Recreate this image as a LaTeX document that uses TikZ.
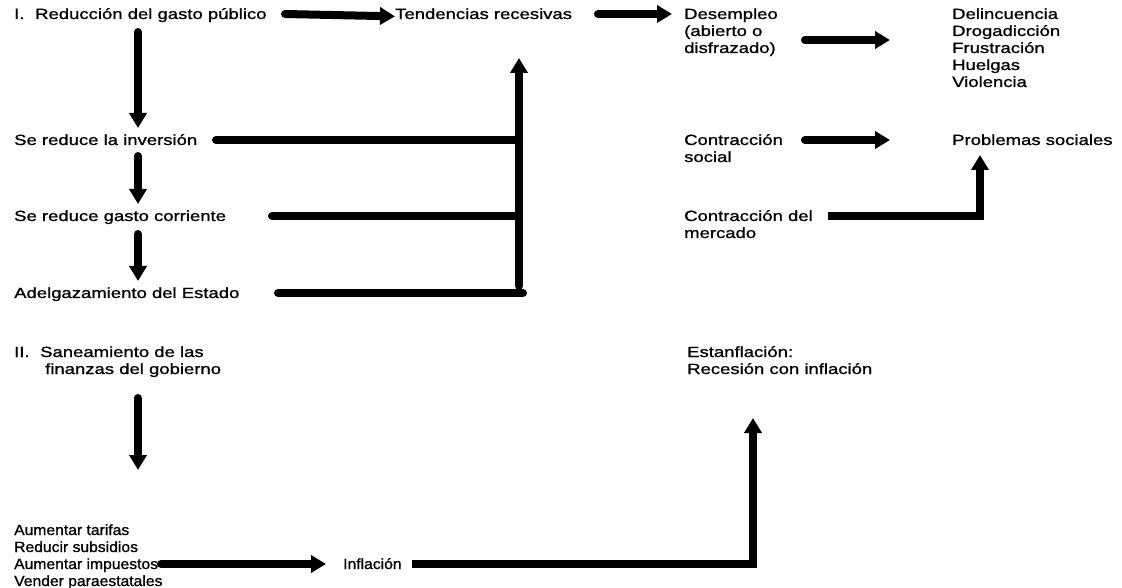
\documentclass[tikz,border=0pt]{standalone}
\usepackage{fontspec}
\setmainfont{Liberation Sans}[FakeStretch=1.25,FakeBold=1]
\newfontfamily\smallfont{Liberation Sans}[FakeStretch=1.06,FakeBold=1]
\usetikzlibrary{arrows.meta}
\tikzset{
  lbl/.style={anchor=base west, inner sep=0pt, font=\fontsize{14.8}{17}\selectfont},
  slbl/.style={lbl, font=\smallfont\fontsize{14.8}{17}\selectfont},
  arr/.style={line width=8pt, line cap=round, -{Triangle[length=15pt,width=17pt]}},
  bar/.style={line width=8pt, line cap=round}
}
\begin{document}
\begin{tikzpicture}[x=1pt,y=-1pt]
\useasboundingbox[fill=white] (0,0) rectangle (1122,588);
% ---- section I texts
\node[lbl] (one) at (14,19) {I.};
\node[lbl] (red) at (35,19) {Reducción del gasto público};
\node[lbl] (tend) at (395,19) {Tendencias recesivas};
\node[lbl] (des1) at (684,19) {Desempleo};
\node[lbl] (des2) at (684,36) {(abierto o};
\node[lbl] (des3) at (684,53) {disfrazado)};
\node[lbl] (del1) at (952,19) {Delincuencia};
\node[lbl] (del2) at (952,36) {Drogadicción};
\node[lbl] (del3) at (952,53) {Frustración};
\node[lbl] (del4) at (952,70) {Huelgas};
\node[lbl] (del5) at (952,87) {Violencia};
\node[lbl] (inv) at (14,145) {Se reduce la inversión};
\node[lbl] (gc) at (14,221) {Se reduce gasto corriente};
\node[lbl] (adel) at (14,298) {Adelgazamiento del Estado};
\node[lbl] (cs1) at (684,145) {Contracción};
\node[lbl] (cs2) at (684,162) {social};
\node[lbl] (ps) at (952,145) {Problemas sociales};
\node[lbl] (cm1) at (684,221) {Contracción del};
\node[lbl] (cm2) at (684,238) {mercado};
% ---- section II texts
\node[lbl] (two) at (14,357) {II.};
\node[lbl] (san1) at (40,357) {Saneamiento de las};
\node[lbl] (san2) at (45,374) {finanzas del gobierno};
\node[lbl] (est1) at (687,357) {Estanflación:};
\node[lbl] (est2) at (687,374) {Recesión con inflación};
\node[slbl] (tar) at (14,535) {Aumentar tarifas};
\node[slbl] (sub) at (14,552) {Reducir subsidios};
\node[slbl] (imp) at (14,569) {Aumentar impuestos};
\node[slbl] (ven) at (14,586) {Vender paraestatales};
\node[slbl] (inf) at (343,569) {Inflación};
% ---- coordinates
\coordinate (a1s) at (285,14);
\coordinate (a2s) at (598,14);
\coordinate (a2e) at (672,14);
\coordinate (a3s) at (805,40);
\coordinate (a3e) at (890,40);
\coordinate (d1s) at (138,32);
\coordinate (d1e) at (138,128);
\coordinate (l1s) at (216,140);
\coordinate (l1e) at (519,140);
\coordinate (d2s) at (138,156);
\coordinate (d2e) at (138,204);
\coordinate (l2s) at (272,216);
\coordinate (l2e) at (519,216);
\coordinate (d3s) at (138,234);
\coordinate (d3e) at (138,281);
\coordinate (l3s) at (278,293);
\coordinate (l3e) at (523,293);
\coordinate (vb) at (519,286);
\coordinate (vt) at (519,58);
\coordinate (a4s) at (805,140);
\coordinate (a4e) at (890,140);
\coordinate (l5s) at (828,216);
\coordinate (l5c) at (980,216);
\coordinate (l5e) at (980,155);
\coordinate (d4s) at (138,398);
\coordinate (d4e) at (138,470);
\coordinate (a5s) at (161,564);
\coordinate (a5e) at (326,564);
\coordinate (l6s) at (412,564);
\coordinate (l6c) at (753,564);
\coordinate (l6e) at (753,418);
% ---- connectors
\draw[arr] (a1s) -- (tend.mid west);
\draw[arr] (a2s) -- (a2e);
\draw[arr] (a3s) -- (a3e);
\draw[arr] (d1s) -- (d1e);
\draw[arr] (d2s) -- (d2e);
\draw[arr] (d3s) -- (d3e);
\draw[bar] (l1s) -- (l1e);
\draw[bar] (l2s) -- (l2e);
\draw[bar] (l3s) -- (l3e);
\draw[arr] (vb) -- (vt);
\draw[arr] (a4s) -- (a4e);
\draw[arr, line cap=butt] (l5s) -- (l5c) -- (l5e);
\draw[arr] (d4s) -- (d4e);
\draw[arr] (a5s) -- (a5e);
\draw[arr, line cap=butt] (l6s) -- (l6c) -- (l6e);
\end{tikzpicture}
\end{document}
